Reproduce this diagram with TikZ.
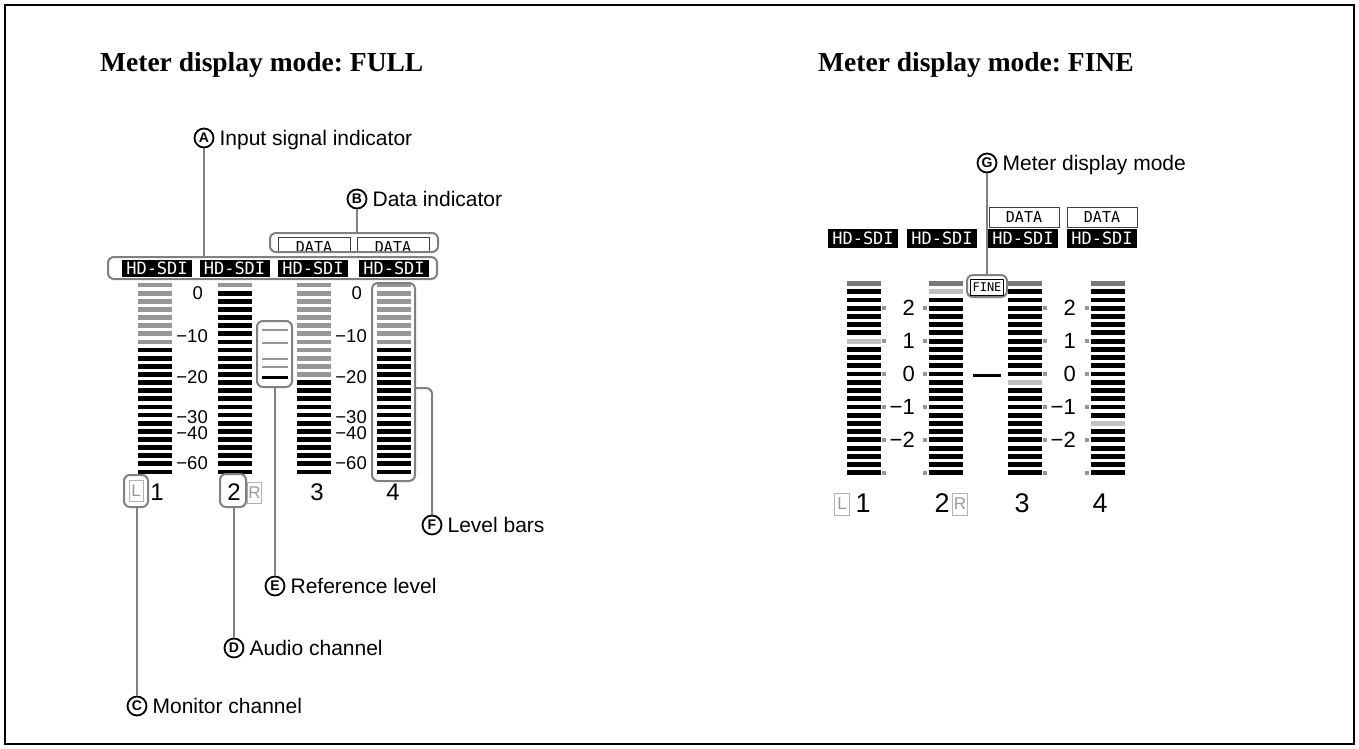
\documentclass[tikz,border=0pt]{standalone}
\usepackage{fontspec}
\setmainfont{Liberation Serif}
\setsansfont{Liberation Sans}
\newfontfamily\lcdfont{DejaVu Sans Mono}
\usetikzlibrary{positioning}
\frenchspacing
\definecolor{leadgray}{RGB}{128,128,128}
\definecolor{bargray}{RGB}{150,150,150}
\definecolor{barlight}{RGB}{192,192,192}
\definecolor{bardark}{RGB}{120,120,120}
\tikzset{
  circlbl/.style={circle,draw,line width=1.8pt,minimum size=19pt,inner sep=0pt,font=\sffamily\bfseries\fontsize{14}{14}\selectfont},
  calltext/.style={inner sep=0pt,text height=15pt,text depth=0pt,font=\sffamily\fontsize{21}{21}\selectfont},
  leader/.style={draw=leadgray,line width=2pt},
  hilite/.style={draw=leadgray,line width=2pt,rounded corners=6pt,inner sep=0pt},
  sdi/.style={fill=black,text=white,inner sep=0pt,minimum width=70pt,minimum height=17pt,font=\lcdfont\fontsize{17}{17}\selectfont},
  databox/.style={draw=black!75,line width=1pt,fill=white,inner sep=0pt,minimum width=70pt,minimum height=20pt,font=\lcdfont\fontsize{15}{15}\selectfont},
  dbmark/.style={inner sep=0pt,anchor=east,text height=13pt,text depth=0pt,font=\sffamily\fontsize{18.5}{18.5}\selectfont},
  chan/.style={inner sep=0pt,font=\sffamily\fontsize{24}{24}\selectfont},
  lrbox/.style={draw=leadgray!60,line width=1pt,text=leadgray!80,inner sep=0pt,minimum width=14pt,minimum height=21pt,font=\sffamily\fontsize{17}{17}\selectfont},
  heading/.style={anchor=base west,inner sep=0pt,font=\bfseries\fontsize{27.5}{30}\selectfont}
}
\begin{document}
\begin{tikzpicture}[x=1pt,y=-1pt]
\useasboundingbox (0,0) rectangle (1359,749);
\draw[line width=2.7pt] (5,5) rectangle (1354,744);

\node[heading] (fulltitle) at (100,72) {Meter display mode: FULL};
\node[heading] (finetitle) at (818,72) {Meter display mode: FINE};

% FULL mode meters
\foreach \x [count=\n] in {157,234.5,313,394}
    \node[sdi] (sdiL\n) at (\x,268.5) {HD-SDI};
\begin{scope}
    \clip (270,233) rectangle (438,250);
    \node[databox,minimum width=72pt] (dataL3) at (314,247) {DATA};
    \node[databox,minimum width=72pt] (dataL4) at (393,247) {DATA};
\end{scope}
\foreach \x/\g in {155/8,235/1,314/12,394/8}{
    \foreach \i in {0,...,23}
        \fill[black] (\x-17,285+8.13*\i-2.4) rectangle (\x+17,285+8.13*\i+2.4);
    \foreach \i in {1,...,\g}
        \fill[bargray] (\x-17,276.87+8.13*\i-2.4) rectangle (\x+17,276.87+8.13*\i+2.4);
}
\foreach \v/\y [count=\k] in {−10/336,−20/377,−30/417,−40/433,−60/463}{
    \node[dbmark] (dbA\k) at (208,\y) {\v};
    \node[dbmark] (dbB\k) at (367,\y) {\v};
}
\node[dbmark] (dbA0) at (203,293) {0};
\node[dbmark] (dbB0) at (362,293) {0};
\foreach \y in {330,343,359,367}
    \fill[bargray] (262,\y-1.3) rectangle (288,\y+1.3);
\fill[black] (262,375.5) rectangle (288,378.5);

\node[lrbox] (monL) at (136,491) {L};
\node[chan] (ch1) at (157,492) {1};
\node[chan] (ch2) at (234,492) {2};
\node[lrbox] (monR) at (254.5,492.5) {R};
\node[chan] (ch3) at (317,492) {3};
\node[chan] (ch4) at (393,492) {4};

\begin{scope}[every node/.style={hilite}]
    \node[minimum width=329pt,minimum height=22pt] (inbox) at (272.5,268) {};
    \node[minimum width=168pt,minimum height=19pt] (databx) at (354,242.5) {};
    \node[minimum width=35pt,minimum height=66pt] (refbox) at (274.5,354) {};
    \node[minimum width=43pt,minimum height=198pt] (lvlbox) at (393.5,382) {};
    \node[minimum width=24pt,minimum height=32pt] (monbox) at (136,491) {};
    \node[minimum width=26pt,minimum height=33pt] (audbox) at (233,490.5) {};
\end{scope}

% FINE mode meters
\foreach \x [count=\n] in {863,942,1023,1102}
    \node[sdi,minimum height=19pt] (sdiR\n) at (\x,238.5) {HD-SDI};
\node[databox] (dataR3) at (1024,217) {DATA};
\node[databox] (dataR4) at (1102,217) {DATA};
\foreach \x/\l in {864/7,946/1,1025/12,1108/17}{
    \foreach \i in {1,...,23}
        \fill[black] (\x-17,283.5+8.23*\i-2.4) rectangle (\x+17,283.5+8.23*\i+2.4);
    \fill[bardark] (\x-17,281.1) rectangle (\x+17,285.9);
    \fill[barlight] (\x-17,283.5+8.23*\l-2.4) rectangle (\x+17,283.5+8.23*\l+2.4);
}
\foreach \x in {884,925,1045,1087}
    \foreach \i in {3,7,...,23}
        \fill[bargray] (\x-2,283.5+8.23*\i-2) rectangle (\x+2,283.5+8.23*\i+2);
\foreach \v [count=\k] in {2,1,0,−1,−2}{
    \node[dbmark,text height=15pt,font=\sffamily\fontsize{22}{22}\selectfont] (fnA\k) at (915,283.5+8.23*4*\k-8.23) {\v};
    \node[dbmark,text height=15pt,font=\sffamily\fontsize{22}{22}\selectfont] (fnB\k) at (1076,283.5+8.23*4*\k-8.23) {\v};
}
\fill[black] (973,373.5) rectangle (1001,376.5);
\node[hilite,minimum width=40pt,minimum height=22pt] (finebox) at (987,286) {};
\node[draw,line width=0.8pt,inner sep=0pt,minimum width=33pt,minimum height=16pt,font=\lcdfont\fontsize{12}{12}\selectfont] (finetxt) at (987,287) {FINE};

\node[lrbox,minimum width=15pt,minimum height=22pt] (fineL) at (842,504) {L};
\node[chan,font=\sffamily\fontsize{27}{27}\selectfont] (fch1) at (863,503) {1};
\node[chan,font=\sffamily\fontsize{27}{27}\selectfont] (fch2) at (942,503) {2};
\node[lrbox,minimum width=15pt,minimum height=22pt] (fineR) at (960,504) {R};
\node[chan,font=\sffamily\fontsize{27}{27}\selectfont] (fch3) at (1022,503) {3};
\node[chan,font=\sffamily\fontsize{27}{27}\selectfont] (fch4) at (1100,503) {4};

% callouts
\node[circlbl] (A) at (204,138) {A};
\node[circlbl] (B) at (357,199) {B};
\node[circlbl] (C) at (137,706) {C};
\node[circlbl] (D) at (234,648) {D};
\node[circlbl] (E) at (275,586) {E};
\node[circlbl] (F) at (432,525) {F};
\node[circlbl] (G) at (987,163) {G};
\node[calltext,right=5pt of A] (Atxt) {Input signal indicator};
\node[calltext,right=5pt of B] (Btxt) {Data indicator};
\node[calltext,right=5pt of C] (Ctxt) {Monitor channel};
\node[calltext,right=5pt of D] (Dtxt) {Audio channel};
\node[calltext,right=5pt of E] (Etxt) {Reference level};
\node[calltext,right=5pt of F] (Ftxt) {Level bars};
\node[calltext,right=5pt of G] (Gtxt) {Meter display mode};

\draw[leader] (A) -- (A |- inbox.north);
\draw[leader] (B) -- (B |- databx.north);
\draw[leader] (C) -- (C |- monbox.south);
\draw[leader] (D) -- (D |- audbox.south);
\draw[leader] (E) -- (E |- refbox.south);
\draw[leader,rounded corners=6pt] (lvlbox.east |- 0,388) -| (F);
\draw[leader] (G) -- (G |- finebox.north);
\end{tikzpicture}
\end{document}
